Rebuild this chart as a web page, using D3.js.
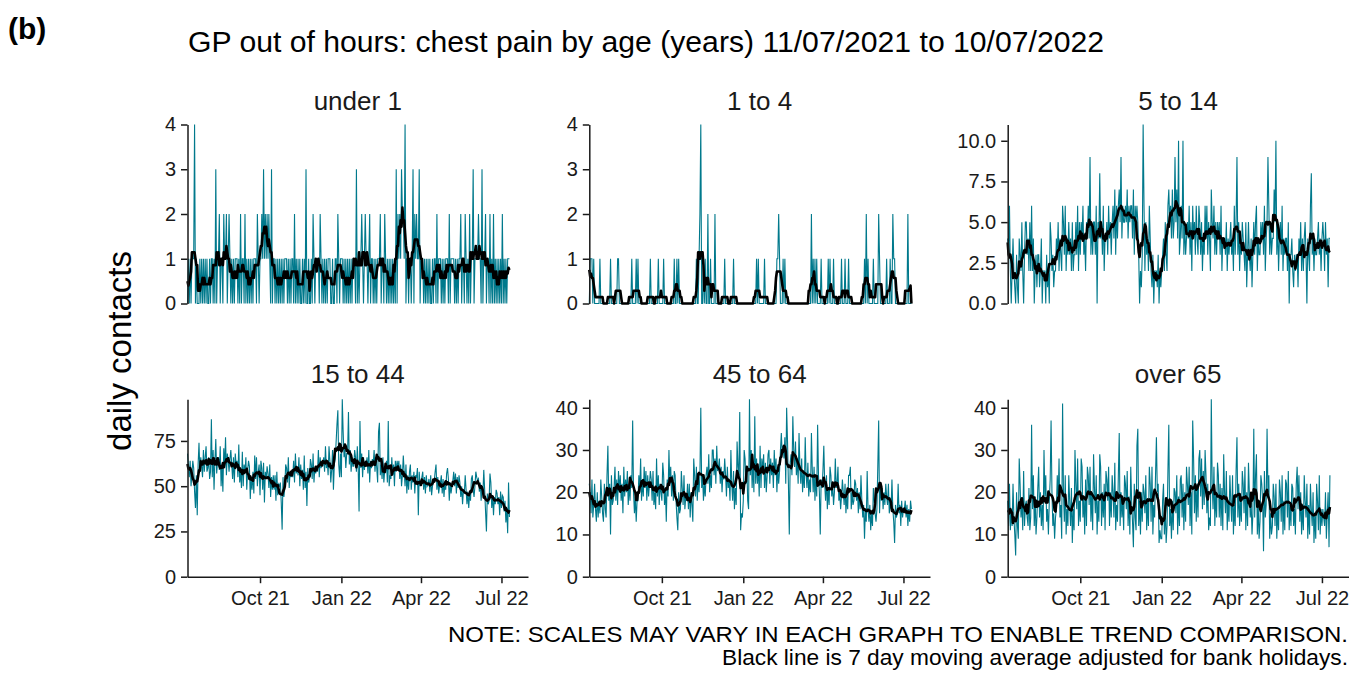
<!DOCTYPE html>
<html><head><meta charset="utf-8">
<script src="https://cdn.jsdelivr.net/npm/d3@7"></script>
<style>
body{margin:0;background:#fff}
svg{display:block}
text{font-family:"Liberation Sans",Arial,Helvetica,sans-serif}
</style>
</head><body>
<svg id="chart" width="1354" height="675"></svg>
<script>
// ---------------- DATA ----------------
const startDate = "2021-07-11";          // first daily value (Sun 11/07/2021)
const domainEnd = "2022-07-31";          // x axis end
const panelTitles = ["under 1", "1 to 4", "5 to 14", "15 to 44", "45 to 64", "over 65"];
const xTickDates = ["2021-10-01", "2022-01-01", "2022-04-01", "2022-07-01"];
const xTickLabels = ["Oct 21", "Jan 22", "Apr 22", "Jul 22"];
const yTicksUnder1 = [0, 1, 2, 3, 4];
const yTicks1to4 = [0, 1, 2, 3, 4];
const yTicks5to14 = [0, 2.5, 5, 7.5, 10];
const yTicks15to44 = [0, 25, 50, 75];
const yTicks45to64 = [0, 10, 20, 30, 40];
const yTicksOver65 = [0, 10, 20, 30, 40];

// daily contacts, 7 days (Sun..Sat) per group
const under1 = [
0,1,0,1,0,1,1, 1,4,0,1,0,0,0, 1,0,1,0,1,0,1, 0,1,0,0,1,0,1,
1,0,1,0,3,0,1, 1,2,0,1,1,0,2, 1,1,2,0,1,2,1, 0,1,0,1,0,1,1,
1,0,1,0,2,0,1, 1,0,2,0,1,0,1, 0,1,0,1,0,1,1, 1,0,2,1,0,1,1,
2,1,3,1,2,1,2, 1,2,1,0,3,0,1, 1,0,1,0,1,0,1, 0,1,0,1,0,1,1,
1,0,1,0,1,0,1, 1,0,2,0,1,0,1, 0,1,0,0,1,0,1, 0,3,0,0,1,0,0,
1,0,2,1,0,1,1, 1,1,0,2,1,0,1, 0,1,0,1,0,1,1, 1,0,0,1,0,0,1,
1,0,2,1,0,1,1, 1,0,1,0,1,0,1, 0,1,0,1,0,1,1, 1,0,3,0,1,0,1,
1,2,1,0,1,2,1, 1,0,1,2,0,1,1, 0,1,0,1,0,1,1, 1,2,0,1,1,0,2,
1,0,1,0,1,0,1, 0,1,0,1,0,3,0, 2,1,2,1,3,2,2, 1,4,0,1,1,0,1,
1,0,1,3,0,2,1, 2,1,1,3,0,1,1, 1,0,1,0,1,0,1, 0,1,0,0,1,0,1,
1,0,2,0,1,1,1, 0,1,0,1,0,1,1, 1,0,2,0,1,1,1, 1,0,1,0,1,0,1,
1,2,0,1,1,0,2, 1,0,1,0,2,0,1, 1,3,0,1,1,1,1, 2,1,1,0,3,0,1,
1,2,0,1,1,0,2, 0,1,0,2,0,1,0, 1,0,1,0,1,0,2, 0,1,0,1,0,1,1,
1];

// 1 to 4: mostly zero days; listed as [day index, contacts] for the non-zero days
const age1to4NonZero = [
[1,1],[2,1],[3,1],[5,1],[12,1],[24,1],[32,1],[33,1],[48,1],[53,1],[55,1],[69,1],
[78,1],[84,1],[96,1],[99,1],[101,1],[121,1],[124,1],[125,2],[126,4],[129,1],[131,1],
[134,2],[137,1],[142,2],[153,1],[163,1],[189,1],[191,1],[198,1],[212,1],[213,1],
[214,2],[215,1],[219,1],[221,1],[251,2],[253,1],[255,1],[257,1],[262,1],[270,1],
[272,1],[276,1],[285,1],[289,1],[293,1],[311,1],[313,2],[315,1],[321,1],[327,2],
[328,1],[336,1],[340,1],[343,2],[344,1],[345,1],[360,2]];

const age5to14 = [
4,3,6,2,0,2,4, 2,1,0,3,1,0,4, 3,2,5,2,0,3,5, 5,3,4,2,5,2,6,
2,4,0,2,3,1,3, 3,1,2,4,0,2,2, 2,0,3,1,2,0,5, 4,2,3,1,2,2,4,
3,5,2,4,3,2,6, 5,3,6,2,4,3,5, 3,4,2,5,2,3,3, 5,3,6,2,5,3,5,
4,6,3,4,2,5,4, 6,4,9,3,5,3,5, 5,3,6,0,5,4,8, 4,5,3,6,2,4,4,
5,3,6,4,5,3,5, 6,4,7,3,6,4,6, 7,5,9,4,6,5,5, 6,5,7,4,6,5,6,
6,4,7,3,6,5,6, 5,3,0,2,1,3,11, 6,2,5,3,4,2,6, 4,2,1,3,0,2,2,
2,1,3,0,2,1,2, 3,4,2,5,3,2,6, 7,5,6,4,7,4,5, 9,5,7,4,10,3,4,
6,4,10,3,5,3,4, 5,4,6,3,5,2,6, 4,5,3,6,4,3,6, 5,3,5,2,4,3,6,
4,6,3,5,4,2,7, 5,4,6,3,5,3,5, 4,5,3,6,2,4,4, 4,3,5,2,4,3,4,
5,3,4,2,6,3,5, 9,3,5,2,4,3,5, 4,3,2,5,1,3,5, 3,2,4,1,3,5,3,
5,6,2,4,3,3,5, 4,5,3,6,2,4,5, 9,6,3,5,3,4,4, 7,5,10,3,5,2,4,
5,3,6,2,4,3,4, 4,2,5,0,3,3,4, 2,1,3,2,3,3,1, 4,3,5,2,4,2,4,
5,3,0,4,3,2,6, 8,3,4,2,4,3,3, 4,5,3,4,2,4,5, 4,2,5,3,4,1,4,
4];

const age15to44 = [
68,62,55,64,50,57,64, 60,47,38,56,34,62,74, 58,66,61,55,70,58,66, 72,58,60,66,54,58,87,
55,70,48,64,76,57,64, 66,59,72,50,62,47,71, 60,77,56,68,64,58,65, 70,62,54,66,52,68,62,
64,55,73,52,58,49,69, 50,62,57,66,48,59,64, 61,43,55,48,58,46,67, 54,66,50,58,62,45,64,
60,48,63,41,58,54,61, 57,49,62,44,55,48,56, 48,56,42,58,45,51,50, 52,41,26,55,44,49,62,
60,52,66,49,58,55,59, 55,64,52,68,57,61,56, 66,50,62,54,59,48,67, 49,58,39,60,52,55,65,
62,54,68,52,60,57,60, 58,70,55,66,60,63,62, 66,58,72,60,64,56,72, 64,52,59,70,48,62,65,
74,84,92,62,55,68,55, 98,80,66,71,60,68,68, 91,62,70,58,66,61,61, 70,66,58,72,60,36,86,
60,68,55,66,59,64,62, 66,57,70,52,64,60,65, 62,70,58,66,60,52,80, 85,56,62,54,66,52,59,
58,64,52,86,50,56,54, 66,56,62,50,64,58,64, 60,64,54,62,50,56,67, 58,50,62,46,56,48,58,
62,48,56,52,58,46,56, 55,60,34,58,50,52,55, 58,48,55,46,56,50,51, 54,47,56,45,50,52,53,
58,62,48,55,46,50,52, 56,46,54,44,52,48,57, 60,54,42,52,46,50,53, 58,50,57,46,55,49,56,
52,44,50,40,48,46,56, 48,40,47,38,46,42,54, 56,48,44,50,58,55,53, 54,47,52,42,50,46,59,
48,36,25,46,40,42,57, 52,38,45,34,44,40,48, 46,40,44,34,47,38,45, 44,36,42,30,38,24,52,
33];

const age45to64 = [
22,20,15,23,14,17,22, 16,13,20,14,18,15,23, 19,15,13,22,16,14,24, 31,18,22,10,24,17,18,
21,26,18,23,17,25,20, 24,18,22,15,26,19,23, 20,25,17,22,18,24,21, 37,20,15,19,13,18,18,
24,20,28,18,23,19,26, 21,25,18,24,19,22,25, 23,18,25,17,20,16,28, 19,24,17,22,20,18,27,
24,17,21,13,23,19,30, 22,26,19,24,18,25,24, 18,14,11,20,15,16,25, 21,17,24,16,19,18,22,
16,22,14,20,17,13,28, 24,19,26,18,23,20,24, 40,21,24,18,22,19,24, 26,22,29,20,24,21,30,
30,24,28,22,31,25,26, 28,22,26,20,25,23,28, 24,19,26,21,23,18,30, 22,18,25,16,21,17,32,
26,24,39,11,15,14,18, 30,28,22,26,18,16,42, 24,30,21,27,20,38,22, 28,22,26,19,31,21,28,
25,29,21,27,20,24,29, 30,22,28,24,27,21,30, 24,28,20,26,22,25,30, 34,29,31,28,33,22,40,
32,22,10,27,29,24,38, 30,26,32,24,28,22,34, 26,22,28,20,25,21,33, 24,21,27,19,23,20,34,
25,20,26,18,24,19,36, 24,20,10,23,21,25,31, 22,18,24,16,21,17,26, 24,19,22,17,20,28,21,
22,26,18,20,16,19,23, 20,17,22,15,19,16,24, 24,26,16,20,17,18,23, 22,18,21,15,20,16,24,
18,14,17,9,16,13,25, 16,13,17,11,15,12,21, 18,15,13,16,26,37,15, 22,18,21,16,20,17,22,
19,17,22,15,18,16,23, 16,13,8,17,14,15,22, 15,17,12,18,14,16,16, 18,14,17,12,16,13,18,
16];

const ageOver65 = [
18,12,22,11,15,12,22, 14,10,5,20,12,9,28, 22,14,18,11,25,12,17, 18,14,12,21,11,14,36,
16,24,12,19,10,14,21, 26,14,20,12,17,11,30, 19,24,13,16,10,18,23, 37,20,12,15,9,14,16,
24,18,28,14,17,9,41, 20,13,24,10,16,12,24, 18,12,21,8,16,11,30, 22,16,28,12,18,13,28,
26,14,19,10,23,12,26, 24,17,26,13,20,11,29, 21,15,24,10,18,13,29, 26,12,20,14,22,11,25,
23,18,26,12,20,14,24, 20,14,27,11,17,13,24, 34,12,20,14,18,11,24, 22,16,25,12,19,10,26,
18,13,7,22,14,11,31, 35,12,18,10,20,13,22, 20,15,24,11,18,12,26, 22,13,26,10,17,14,24,
33,20,22,8,11,9,9, 18,22,10,17,8,12,25, 36,12,16,9,18,11,21, 20,15,24,10,19,12,23,
24,14,22,11,20,13,26, 22,17,26,12,20,10,37, 28,15,24,13,22,14,28, 30,19,28,16,25,17,30,
24,15,22,11,14,12,42, 22,16,26,12,20,14,27, 24,14,22,12,21,11,29, 20,15,25,11,18,13,24,
18,13,24,10,17,12,25, 33,14,22,12,18,13,25, 22,15,26,11,20,12,27, 20,14,18,10,15,35,14,
24,29,10,17,9,13,24, 22,18,6,25,14,17,35, 20,24,9,15,10,12,22, 19,12,22,9,16,11,23,
20,13,24,10,18,11,23, 22,14,25,11,17,12,22, 21,12,16,10,22,26,16, 24,13,20,10,17,11,24,
18,14,22,9,17,10,22, 16,12,20,8,15,9,22, 18,11,24,10,16,12,16, 14,12,20,9,15,20,7,
24];

// ---------------- BUILD ----------------
const nDays = under1.length;
const parse = d3.utcParse("%Y-%m-%d");
const t0 = parse(startDate);
const dates = d3.range(nDays).map(i => d3.utcDay.offset(t0, i));

const age1to4 = new Array(nDays).fill(0);
age1to4NonZero.forEach(([i, v]) => { age1to4[i] = v; });

function movingAverage(v) {
  return v.map((_, i) => {
    const s = Math.max(0, i - 3), e = Math.min(v.length - 1, i + 3);
    return d3.mean(v.slice(s, e + 1));
  });
}

const series = [under1, age1to4, age5to14, age15to44, age45to64, ageOver65];
const yTicks = [yTicksUnder1, yTicks1to4, yTicks5to14, yTicks15to44, yTicks45to64, yTicksOver65];
const yFormats = [d3.format("d"), d3.format("d"), d3.format(".1f"), d3.format("d"), d3.format("d"), d3.format("d")];

const TEAL = "#00798c";
const INK = "#1a1a1a";
const FONT = '"Liberation Sans",Arial,sans-serif';
const cols = [{x0: 187.5, x1: 528}, {x0: 589.3, x1: 930}, {x0: 1007.7, x1: 1348.5}];
const rows = [{yTop: 124.5, yBot: 303.5, strip: 110}, {yTop: 399.3, yBot: 576.7, strip: 383}];

const svg = d3.select("#chart");

svg.append("text").attr("x", 8).attr("y", 39)
  .attr("font-size", 30).attr("font-weight", "bold").attr("fill", "#000").text("(b)");
svg.append("text").attr("x", 188).attr("y", 52)
  .attr("font-size", 30).attr("fill", "#000")
  .attr("textLength", 916).attr("lengthAdjust", "spacingAndGlyphs")
  .text("GP out of hours: chest pain by age (years) 11/07/2021 to 10/07/2022");
svg.append("text").attr("transform", "translate(131,351) rotate(-90)")
  .attr("text-anchor", "middle").attr("font-size", 33).attr("fill", "#000")
  .text("daily contacts");

const xDomain = [t0, parse(domainEnd)];

series.forEach((vals, k) => {
  const c = cols[k % 3], r = rows[Math.floor(k / 3)];
  const x = d3.scaleUtc().domain(xDomain).range([c.x0, c.x1]);
  const y = d3.scaleLinear().domain([0, d3.max(vals)]).range([r.yBot, r.yTop]);
  const g = svg.append("g");

  g.append("text").attr("x", (c.x0 + c.x1) / 2).attr("y", r.strip)
    .attr("text-anchor", "middle").attr("font-size", 26).attr("fill", "#1a1a1a")
    .text(panelTitles[k]);

  const line = d3.line().x((d, i) => x(dates[i])).y(d => y(d));
  g.append("path").datum(vals).attr("d", line)
    .attr("fill", "none").attr("stroke", TEAL).attr("stroke-width", 1.1);
  g.append("path").datum(movingAverage(vals)).attr("d", line)
    .attr("fill", "none").attr("stroke", "#000").attr("stroke-width", 2.6)
    .attr("stroke-linejoin", "round");

  const ya = g.append("g").attr("transform", `translate(${c.x0},0)`)
    .call(d3.axisLeft(y).tickValues(yTicks[k]).tickFormat(yFormats[k])
      .tickSize(6.5).tickSizeOuter(0).tickPadding(5));
  ya.select(".domain").attr("stroke", INK).attr("stroke-width", 1.5);
  ya.selectAll(".tick line").attr("stroke", INK).attr("stroke-width", 1.5);
  ya.selectAll(".tick text").attr("font-size", 20).attr("fill", "#1a1a1a").attr("font-family", FONT);

  if (k >= 3) {
    const xa = g.append("g").attr("transform", `translate(0,${r.yBot})`)
      .call(d3.axisBottom(x).tickValues(xTickDates.map(parse))
        .tickFormat((d, i) => xTickLabels[i]).tickSize(6.5).tickSizeOuter(0).tickPadding(8));
    xa.select(".domain").attr("stroke", INK).attr("stroke-width", 1.5);
    xa.selectAll(".tick line").attr("stroke", INK).attr("stroke-width", 1.5);
    xa.selectAll(".tick text").attr("font-size", 20).attr("fill", "#1a1a1a").attr("font-family", FONT);
  }
});

svg.append("text").attr("x", 1348).attr("y", 642).attr("text-anchor", "end")
  .attr("font-size", 22.5).attr("fill", "#000")
  .attr("textLength", 900).attr("lengthAdjust", "spacingAndGlyphs")
  .text("NOTE: SCALES MAY VARY IN EACH GRAPH TO ENABLE TREND COMPARISON.");
svg.append("text").attr("x", 1348).attr("y", 665).attr("text-anchor", "end")
  .attr("font-size", 22.5).attr("fill", "#000")
  .attr("textLength", 626).attr("lengthAdjust", "spacingAndGlyphs")
  .text("Black line is 7 day moving average adjusted for bank holidays.");
</script>
</body></html>
